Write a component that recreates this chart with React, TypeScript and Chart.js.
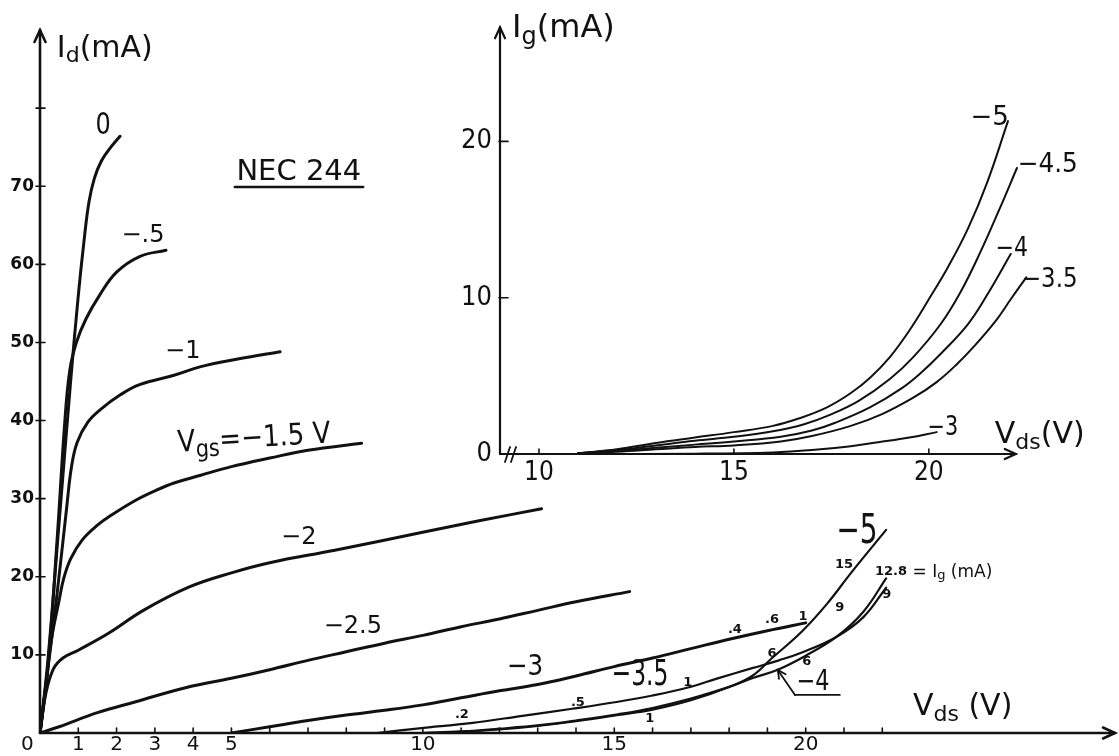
import React, { useEffect, useRef } from "react";
import { Chart, registerables } from "chart.js";
Chart.register(...registerables);

const SANS = '"DejaVu Sans", "Liberation Sans", sans-serif';
const NARROW = '"DejaVu Sans Condensed", "Liberation Sans Narrow", "DejaVu Sans", sans-serif';
const INK = "#111";

// ---------- main chart: Id (mA) vs Vds (V), one curve per Vgs ----------
const idVgs0 = [[0, 0], [0.2, 9], [0.5, 27], [0.8, 45], [1.0, 56], [1.15, 63], [1.28, 68], [1.42, 71], [1.6, 73.2], [1.85, 75], [2.09, 76.4]];
const idVgsM05 = [[0, 0], [0.2, 8], [0.45, 25], [0.65, 40], [0.78, 46.5], [0.95, 50], [1.2, 53], [1.55, 56], [2.0, 59], [2.6, 61], [3.29, 61.8]];
const idVgsM1 = [[0, 0], [0.15, 6], [0.45, 18], [0.7, 29], [0.82, 34], [0.97, 37.2], [1.25, 39.8], [1.6, 41.5], [2.1, 43.3], [2.6, 44.6], [3.5, 45.8], [4.2, 46.9], [5.2, 47.9], [6.27, 48.8]];
const idVgsM15 = [[0, 0], [0.15, 6], [0.3, 12], [0.5, 17], [0.62, 19.8], [0.8, 22.3], [1.1, 24.7], [1.5, 26.6], [1.9, 28], [2.5, 29.8], [3.0, 31], [3.5, 32], [4.2, 33], [5.0, 34.1], [6.0, 35.2], [7.0, 36.2], [8.4, 37.1]];
const idVgsM2 = [[0, 0], [0.15, 5], [0.35, 8.2], [0.6, 9.6], [1.0, 10.6], [1.8, 12.8], [2.7, 15.7], [3.9, 18.7], [5.0, 20.5], [6.0, 21.8], [7.7, 23.4], [9.9, 25.6], [11.5, 27.2], [13.1, 28.7]];
const idVgsM25 = [[0, 0], [0.5, 0.8], [1.5, 2.6], [2.5, 4.0], [3.8, 5.8], [5, 7], [6, 8.1], [7, 9.3], [8, 10.4], [9, 11.5], [10, 12.5], [11, 13.6], [12, 14.6], [13, 15.7], [14, 16.8], [15.4, 18.1]];
const idVgsM3 = [[5, 0], [6, 0.8], [7, 1.6], [8, 2.3], [9, 2.9], [10, 3.6], [11, 4.5], [12, 5.4], [13, 6.2], [14, 7.3], [15, 8.5], [16, 9.6], [17, 10.8], [18, 12.0], [19, 13.1], [20, 14.1]];
const idVgsM35 = [[8.8, 0], [9.9, 0.6], [11.3, 1.3], [12.6, 2.2], [13.9, 3.1], [15.1, 4.0], [16.0, 4.8], [16.9, 5.8], [17.7, 7.0], [18.6, 8.3], [19.3, 9.3], [19.9, 10.3], [20.8, 12.3], [21.5, 14.8], [22.1, 18.6]];
const idVgsM4 = [[10, 0], [11, 0.2], [12, 0.55], [13.05, 1.0], [14, 1.6], [15.1, 2.4], [16, 3.2], [17, 4.4], [18, 5.9], [18.6, 7.0], [19.27, 8.1], [20, 9.9], [20.8, 12.3], [21.5, 15.5], [22.1, 19.8]];
const idVgsM5 = [[10, 0], [11, 0.15], [12, 0.45], [13, 0.9], [14, 1.5], [15.1, 2.3], [16, 3.0], [17, 4.2], [18, 5.9], [18.6, 7.3], [19.1, 9.5], [19.9, 13.0], [20.55, 16.5], [21.2, 20.6], [22.1, 26.0]];

const mainCurves = [idVgs0, idVgsM05, idVgsM1, idVgsM15, idVgsM2, idVgsM25, idVgsM3, idVgsM35, idVgsM4, idVgsM5];
const mainCurveNames = ["0", "-0.5", "-1", "-1.5", "-2", "-2.5", "-3", "-3.5", "-4", "-5"];
const mainXTickLabels = [0, 1, 2, 3, 4, 5, 10, 15, 20];
const mainXTickMarks = [1, 2, 3, 4, 5, 6, 7, 8, 9, 10, 11, 12, 13, 14, 15, 16, 17, 18, 19, 20, 21, 22];
const mainYTickLabels = [10, 20, 30, 40, 50, 60, 70];
const mainYTickMarks = [10, 20, 30, 40, 50, 60, 70, 80];

// ---------- inset: Ig (mA) vs Vds (V) ----------
const igVgsM3 = [[11, 0], [14, 0.02], [16, 0.1], [17, 0.25], [18, 0.5], [18.7, 0.75], [19.5, 1.05], [20.2, 1.4]];
const igVgsM35 = [[11, 0.05], [12, 0.15], [13, 0.3], [14, 0.45], [15, 0.55], [16.2, 0.8], [17, 1.15], [18, 1.8], [18.8, 2.55], [19.6, 3.6], [20.2, 4.6], [20.7, 5.7], [21.2, 7.0], [21.74, 8.6], [22.1, 9.9], [22.5, 11.3]];
const igVgsM4 = [[11, 0.05], [12, 0.2], [13, 0.4], [14, 0.6], [15, 0.8], [16.2, 1.1], [17, 1.5], [17.6, 2.0], [18.5, 3.0], [19.3, 4.2], [19.8, 5.2], [20.3, 6.4], [21, 8.3], [21.5, 10.2], [22.1, 12.8]];
const igVgsM45 = [[11, 0.05], [12, 0.25], [13, 0.55], [14, 0.85], [15, 1.1], [16, 1.45], [16.8, 1.9], [17.46, 2.5], [18.2, 3.4], [19, 4.8], [19.6, 6.2], [20.3, 8.3], [20.8, 10.3], [21.3, 12.8], [21.8, 15.6], [22.26, 18.3]];
const igVgsM5 = [[11, 0.05], [12, 0.3], [13, 0.7], [14, 1.05], [15, 1.4], [16, 1.8], [16.7, 2.3], [17.4, 3.0], [18.0, 3.9], [18.5, 4.9], [19, 6.2], [19.5, 7.9], [20, 9.9], [20.5, 12.0], [21.0, 14.4], [21.5, 17.4], [22.03, 21.3]];

const insetCurves = [igVgsM3, igVgsM35, igVgsM4, igVgsM45, igVgsM5];
const insetCurveNames = ["-3", "-3.5", "-4", "-4.5", "-5"];
const insetXTickLabels = [10, 15, 20];
const insetYTickLabels = [0, 10, 20];

// ---------- annotation helpers ----------
type Part = { t: string; size: number; dy?: number; bold?: boolean };
type Note = { parts: Part[]; v: number; i: number; align?: "left" | "center" | "right"; sx?: number; rot?: number; family?: string };

const p = (t: string, size: number, extra: Partial<Part> = {}): Part => ({ t, size, ...extra });
const simple = (t: string, v: number, i: number, size: number, sx = 1, bold = false): Note => ({ parts: [p(t, size, { bold })], v, i, sx });

const mainNotes: Note[] = [
  simple("0", 1.65, 77.7, 30, 0.8),
  simple("−.5", 2.69, 63.6, 24),
  simple("−1", 3.73, 48.8, 24),
  { parts: [p("V", 30), p("gs", 24, { dy: 8 }), p("=−1.5 V", 30)], v: 5.59, i: 37.6, sx: 0.87, rot: -0.06 },
  simple("−2", 6.76, 25.0, 24),
  simple("−2.5", 8.17, 13.6, 24),
  simple("−3", 12.67, 8.45, 29, 0.85),
  simple("−3.5", 15.67, 7.3, 36, 0.65),
  simple("−5", 21.34, 25.6, 40, 0.7),
  simple("−4", 20.19, 6.4, 28, 0.8),
  simple("NEC 244", 6.76, 71.8, 29),
  { parts: [p("I", 30), p("d", 22, { dy: 7 }), p("(mA)", 30)], v: 0.44, i: 87.5, align: "left" },
  { parts: [p("V", 30), p("ds", 22, { dy: 8 }), p(" (V)", 30)], v: 22.8, i: 3.3, align: "left" },
  simple(".2", 11.02, 2.3, 13, 1, true),
  simple(".5", 14.05, 3.84, 13, 1, true),
  simple("1", 16.92, 6.5, 13, 1, true),
  simple("1", 15.93, 1.9, 13, 1, true),
  simple("6", 19.12, 10.2, 13, 1, true),
  simple("6", 20.03, 9.1, 13, 1, true),
  simple("9", 20.89, 16.0, 13, 1, true),
  simple("15", 21.0, 21.6, 13, 1, true),
  simple("9", 22.12, 17.7, 13, 1, true),
  simple(".4", 18.15, 13.2, 13, 1, true),
  simple(".6", 19.12, 14.5, 13, 1, true),
  simple("1", 19.93, 14.85, 13, 1, true),
  { parts: [p("12.8", 13, { bold: true }), p(" = I", 17), p("g", 13, { dy: 4 }), p(" (mA)", 17)], v: 21.81, i: 20.6, align: "left" },
];

const insetNotes: Note[] = [
  simple("−5", 21.56, 21.5, 26, 1),
  simple("−4.5", 23.05, 18.5, 26, 0.95),
  simple("−4", 22.13, 13.1, 26, 0.85),
  simple("−3.5", 23.1, 11.1, 26, 0.88),
  simple("−3", 20.36, 1.66, 26, 0.8),
  { parts: [p("V", 30), p("ds", 22, { dy: 8 }), p("(V)", 30)], v: 21.69, i: 1.2, align: "left" },
  { parts: [p("I", 32), p("g", 24, { dy: 9 }), p("(mA)", 32)], v: 9.31, i: 27.2, align: "left" },
];

function drawNote(ctx: CanvasRenderingContext2D, n: Note, X: (v: number) => number, Y: (v: number) => number) {
  const fam = n.family ?? SANS;
  ctx.save();
  ctx.translate(X(n.v), Y(n.i));
  if (n.rot) ctx.rotate(n.rot);
  ctx.scale(n.sx ?? 1, 1);
  ctx.textAlign = "left";
  ctx.textBaseline = "middle";
  ctx.fillStyle = INK;
  const fonts = n.parts.map((q) => `${q.bold ? "bold " : ""}${q.size}px ${fam}`);
  const widths = n.parts.map((q, k) => {
    ctx.font = fonts[k];
    return ctx.measureText(q.t).width;
  });
  const total = widths.reduce((a, b) => a + b, 0);
  let x = n.align === "left" ? 0 : n.align === "right" ? -total : -total / 2;
  n.parts.forEach((q, k) => {
    ctx.font = fonts[k];
    ctx.fillText(q.t, x, q.dy ?? 0);
    x += widths[k];
  });
  ctx.restore();
}

function seg(ctx: CanvasRenderingContext2D, x1: number, y1: number, x2: number, y2: number) {
  ctx.beginPath();
  ctx.moveTo(x1, y1);
  ctx.lineTo(x2, y2);
  ctx.stroke();
}

function arrowHead(ctx: CanvasRenderingContext2D, x: number, y: number, dx: number, dy: number, len = 12, wid = 5.5) {
  const px = -dy, py = dx;
  ctx.beginPath();
  ctx.moveTo(x - dx * len + px * wid, y - dy * len + py * wid);
  ctx.lineTo(x, y);
  ctx.lineTo(x - dx * len - px * wid, y - dy * len - py * wid);
  ctx.stroke();
}

const toData = (pts: number[][]) => pts.map(([x, y]) => ({ x, y }));

const mainDecor = {
  id: "mainDecor",
  afterDatasetsDraw(chart: any) {
    const { ctx, chartArea } = chart;
    const xs = chart.scales.x, ys = chart.scales.y;
    const X = (v: number) => xs.getPixelForValue(v);
    const Y = (v: number) => ys.getPixelForValue(v);
    ctx.save();
    ctx.strokeStyle = INK;
    ctx.lineCap = "round";
    ctx.lineWidth = 2.6;
    const x0 = X(0), y0 = Y(0);
    seg(ctx, x0, y0, x0, chartArea.top);
    arrowHead(ctx, x0, chartArea.top, 0, -1);
    seg(ctx, x0, y0, chartArea.right + 3, y0);
    arrowHead(ctx, chartArea.right + 3, y0, 1, 0);
    ctx.lineWidth = 1.6;
    mainXTickMarks.forEach((v) => seg(ctx, X(v), y0, X(v), y0 - 5));
    mainYTickMarks.forEach((v) => seg(ctx, x0 - 4, Y(v), x0 + 5, Y(v)));
    // NEC 244 underline
    ctx.lineWidth = 2.6;
    seg(ctx, X(5.09), Y(69.9), X(8.44), Y(69.9));
    // -4 leader
    ctx.lineWidth = 1.8;
    const tx = X(19.27), ty = Y(8.07), bx = X(19.72), by = Y(4.87);
    seg(ctx, bx, by, tx, ty);
    seg(ctx, bx, by, X(20.89), by);
    const L = Math.hypot(tx - bx, ty - by);
    arrowHead(ctx, tx, ty, (tx - bx) / L, (ty - by) / L, 8, 4);
    mainNotes.forEach((n) => drawNote(ctx, n, X, Y));
    ctx.restore();
  },
};

const insetDecor = {
  id: "insetDecor",
  afterDatasetsDraw(chart: any) {
    const { ctx } = chart;
    const xs = chart.scales.x, ys = chart.scales.y;
    const X = (v: number) => xs.getPixelForValue(v);
    const Y = (v: number) => ys.getPixelForValue(v);
    ctx.save();
    ctx.strokeStyle = INK;
    ctx.lineCap = "round";
    ctx.lineWidth = 2.2;
    const x0 = X(9), y0 = Y(0);
    seg(ctx, x0, y0, x0, Y(27.3));
    arrowHead(ctx, x0, Y(27.3), 0, -1, 11, 5);
    seg(ctx, x0, y0, X(22.23), y0);
    arrowHead(ctx, X(22.23), y0, 1, 0, 11, 5);
    // axis break mark
    ctx.lineWidth = 1.8;
    seg(ctx, x0 + 5, y0 + 8, x0 + 10, y0 - 7);
    seg(ctx, x0 + 11, y0 + 8, x0 + 16, y0 - 7);
    ctx.lineWidth = 1.6;
    insetXTickLabels.forEach((v) => seg(ctx, X(v), y0, X(v), y0 - 5));
    insetYTickLabels.filter((v) => v > 0).forEach((v) => seg(ctx, x0 - 1, Y(v), x0 + 8, Y(v)));
    insetNotes.forEach((n) => drawNote(ctx, n, X, Y));
    ctx.restore();
  },
};

function lineDatasets(curves: number[][][], names: string[], widths: number[]) {
  return curves.map((c, k) => ({
    label: names[k],
    data: toData(c),
    showLine: true,
    borderColor: INK,
    borderWidth: widths[k],
    pointRadius: 0,
    fill: false,
    tension: 0.4,
    borderCapStyle: "round" as const,
    borderJoinStyle: "round" as const,
  }));
}

export default function App() {
  const mainRef = useRef<HTMLCanvasElement>(null);
  const insetRef = useRef<HTMLCanvasElement>(null);

  useEffect(() => {
    const mainChart = new Chart(mainRef.current!, {
      type: "scatter",
      data: { datasets: lineDatasets(mainCurves, mainCurveNames, [3, 3, 3, 3, 3, 3, 3, 2.2, 2.2, 2.2]) as any },
      options: {
        animation: false,
        responsive: false,
        devicePixelRatio: 1,
        events: [],
        layout: { padding: { left: 0, top: 30, right: 7, bottom: 0 } },
        plugins: { legend: { display: false }, tooltip: { enabled: false } },
        scales: {
          x: {
            type: "linear",
            min: 0,
            max: 28,
            afterFit: (s: any) => { s.height = 23; },
            grid: { display: false, drawTicks: false },
            border: { display: false },
            ticks: {
              stepSize: 1,
              autoSkip: false,
              maxRotation: 0,
              padding: 0,
              color: INK,
              font: { family: SANS, size: 20 },
              callback: (v: any) => (mainXTickLabels.includes(Number(v)) ? (Number(v) === 0 ? "0    " : String(v)) : ""),
            },
          },
          y: {
            type: "linear",
            min: 0,
            max: 90,
            afterFit: (s: any) => { s.width = 40; },
            grid: { display: false, drawTicks: false },
            border: { display: false },
            ticks: {
              stepSize: 10,
              padding: 6,
              color: INK,
              font: { family: SANS, size: 17, weight: "bold" },
              callback: (v: any) => (mainYTickLabels.includes(Number(v)) ? String(v) : ""),
            },
          },
        },
      },
      plugins: [mainDecor],
    });

    const insetChart = new Chart(insetRef.current!, {
      type: "scatter",
      data: { datasets: lineDatasets(insetCurves, insetCurveNames, [2, 2, 2, 2, 2]) as any },
      options: {
        animation: false,
        responsive: false,
        devicePixelRatio: 1,
        events: [],
        layout: { padding: { left: 0, top: 22, right: 81, bottom: 0 } },
        plugins: { legend: { display: false }, tooltip: { enabled: false } },
        scales: {
          x: {
            type: "linear",
            min: 9,
            max: 22.8,
            afterFit: (s: any) => { s.height = 46; },
            grid: { display: false, drawTicks: false },
            border: { display: false },
            ticks: {
              stepSize: 1,
              autoSkip: false,
              maxRotation: 0,
              includeBounds: false,
              padding: 4,
              color: INK,
              font: { family: NARROW, size: 26 },
              callback: (v: any) => (insetXTickLabels.includes(Number(v)) ? String(v) : ""),
            },
          },
          y: {
            type: "linear",
            min: 0,
            max: 27.5,
            afterFit: (s: any) => { s.width = 60; },
            grid: { display: false, drawTicks: false },
            border: { display: false },
            ticks: {
              stepSize: 10,
              includeBounds: false,
              padding: 8,
              color: INK,
              font: { family: NARROW, size: 27 },
              callback: (v: any) => (insetYTickLabels.includes(Number(v)) ? String(v) : ""),
            },
          },
        },
      },
      plugins: [insetDecor],
    });

    return () => {
      mainChart.destroy();
      insetChart.destroy();
    };
  }, []);

  return (
    <div style={{ position: "fixed", left: 0, top: 0, width: 1119, height: 756, background: "#fff" }}>
      <canvas ref={mainRef} width={1119} height={756} style={{ position: "absolute", left: 0, top: 0 }} />
      <canvas ref={insetRef} width={679} height={500} style={{ position: "absolute", left: 440, top: 0 }} />
    </div>
  );
}
